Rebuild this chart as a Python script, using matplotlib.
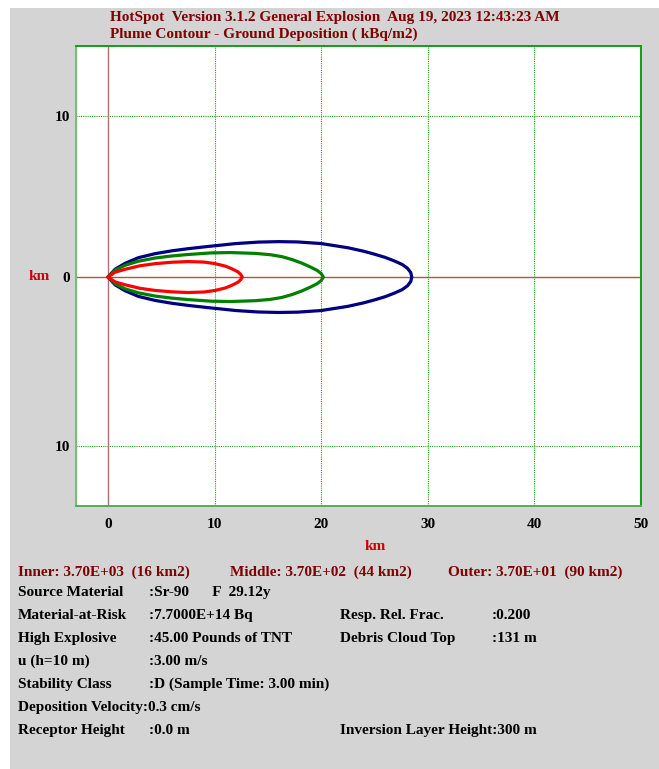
import matplotlib
matplotlib.use("Agg")
import matplotlib.pyplot as plt
from matplotlib.patches import Rectangle

# ---- data (km) : downwind distance and upper half-width of each contour ----
inner_x = [0.0, 0.66, 1.6, 3.0, 4.4, 6.0, 7.5, 9.0, 10.0, 11.0, 11.6, 12.2, 12.45, 12.6]
inner_y = [0.0, 0.30, 0.48, 0.70, 0.83, 0.92, 0.96, 0.93, 0.84, 0.68, 0.52, 0.32, 0.16, 0.0]

middle_x = [0.0, 0.66, 1.6, 2.84, 4.4, 6.0, 7.5, 9.7, 11.5, 13.8, 15.2, 16.3, 17.3, 18.2, 19.0,
            19.6, 20.0, 20.2]
middle_y = [0.0, 0.42, 0.73, 0.98, 1.18, 1.31, 1.40, 1.50, 1.52, 1.47, 1.39, 1.27, 1.08, 0.86,
            0.62, 0.42, 0.22, 0.0]

outer_x = [0.0, 0.66, 1.6, 2.84, 4.4, 6.0, 7.5, 9.4, 12.0, 14.1, 16.0, 17.8, 20.0, 22.5, 24.0,
           25.0, 26.0, 26.9, 27.6, 28.1, 28.4, 28.5]
outer_y = [0.0, 0.48, 0.85, 1.20, 1.45, 1.63, 1.76, 1.90, 2.08, 2.17, 2.20, 2.18, 2.08, 1.82,
           1.60, 1.42, 1.22, 0.99, 0.78, 0.54, 0.28, 0.0]

x_ticks = [0, 10, 20, 30, 40, 50]
x_tick_labels = ["0", "10", "20", "30", "40", "50"]
y_ticks = [10, 0, -10.5]
y_tick_labels = ["10", "0", "10"]

header1 = "HotSpot  Version 3.1.2 General Explosion  Aug 19, 2023 12:43:23 AM"
header2 = "Plume Contour - Ground Deposition ( kBq/m2)"
contour_info = ["Inner: 3.70E+03  (16 km2)", "Middle: 3.70E+02  (44 km2)",
                "Outer: 3.70E+01  (90 km2)"]
left_labels = ["Source Material", "Material-at-Risk", "High Explosive", "u (h=10 m)",
               "Stability Class", "Deposition Velocity:0.3 cm/s", "Receptor Height"]
left_values = [":Sr-90      F  29.12y", ":7.7000E+14 Bq", ":45.00 Pounds of TNT", ":3.00 m/s",
               ":D (Sample Time: 3.00 min)", "", ":0.0 m"]
right_labels = ["", "Resp. Rel. Frac.", "Debris Cloud Top", "", "", "", "Inversion Layer Height:300 m"]
right_values = ["", ":0.200", ":131 m", "", "", "", ""]

W, H = 659, 769
FONT = "Liberation Serif"
FS = 11

fig = plt.figure(figsize=(W / 100, H / 100), dpi=100, facecolor="white")
fig.patches.append(Rectangle((10 / W, 0), 1 - 10 / W, 1 - 8 / H, transform=fig.transFigure,
                             facecolor="#d4d4d4", edgecolor="none", zorder=-10))

def px(x, y):
    return x / W, 1 - y / H

ax = fig.add_axes([76 / W, (H - 506) / H, 565 / W, 460 / H])
ax.set_facecolor("white")
ax.set_xlim(-3.0, 50)
ax.set_ylim(-14.22, 14.35)

for v in [10, 20, 30, 40]:
    ax.axvline(v, color="#20a020", lw=0.8, ls=(0, (1, 1)), zorder=1)
for v in [10, -10.5]:
    ax.axhline(v, color="#20a020", lw=0.8, ls=(0, (1, 1)), zorder=1)
ax.axvline(0, color="#b07070", lw=1.0, zorder=1)
ax.axhline(0, color="#b05050", lw=1.0, zorder=1)

for xs, ys, c in [(outer_x, outer_y, "#000080"), (middle_x, middle_y, "#008000"),
                  (inner_x, inner_y, "#ff0000")]:
    full_x = list(xs) + list(xs[::-1])
    full_y = list(ys) + [-v for v in ys[::-1]]
    ax.plot(full_x, full_y, color=c, lw=2.3, solid_joinstyle="round",
            solid_capstyle="round", zorder=3)

ax.set_xticks(x_ticks)
ax.set_xticklabels(x_tick_labels)
ax.set_yticks(y_ticks)
ax.set_yticklabels(y_tick_labels)
ax.tick_params(axis="x", length=0, pad=9, labelsize=FS)
ax.tick_params(axis="y", length=0, pad=4, labelsize=FS)
for lab in ax.get_xticklabels() + ax.get_yticklabels():
    lab.set_fontfamily(FONT)
    lab.set_fontweight("bold")

for side, col in [("left", "#70c070"), ("bottom", "#50b050"), ("top", "#10a010"), ("right", "#10a010")]:
    ax.spines[side].set_color(col)
    ax.spines[side].set_linewidth(1.4)

common = dict(fontsize=FS, fontfamily=FONT, fontweight="bold")
fig.text(*px(375, 546), "km", color="#cc0000", ha="center", va="center", **common)
fig.text(*px(39, 277), "km", color="#cc0000", ha="center", va="center", **common)

fig.text(*px(110, 21), header1, color="#800000", ha="left", va="baseline", **common)
fig.text(*px(110, 38), header2, color="#800000", ha="left", va="baseline", **common)

for xpos, s in zip([18, 230, 448], contour_info):
    fig.text(*px(xpos, 576), s, color="#800000", ha="left", va="baseline", **common)

row_y = [596, 619, 642, 665, 688, 711, 734]
for yy, l1, v1, l2, v2 in zip(row_y, left_labels, left_values, right_labels, right_values):
    kw = dict(color="black", ha="left", va="baseline", **common)
    if l1:
        fig.text(*px(18, yy), l1, **kw)
    if v1:
        fig.text(*px(149, yy), v1, **kw)
    if l2:
        fig.text(*px(340, yy), l2, **kw)
    if v2:
        fig.text(*px(492, yy), v2, **kw)

fig.savefig("out.png", dpi=100, facecolor="white")
